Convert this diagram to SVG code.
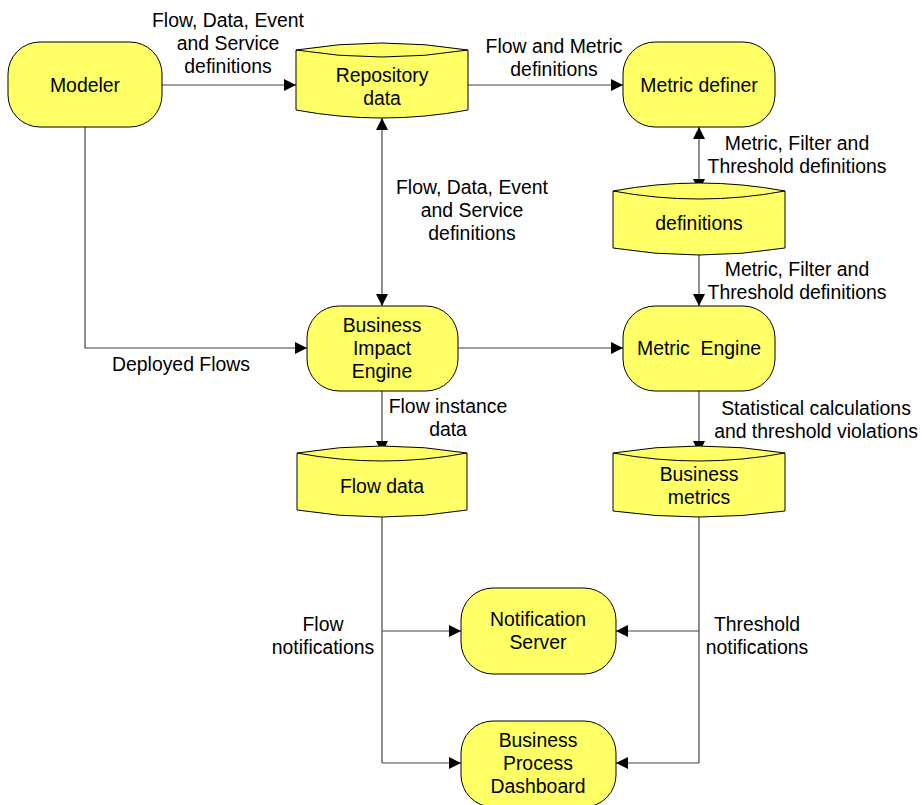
<svg xmlns="http://www.w3.org/2000/svg" width="922" height="805" viewBox="0 0 922 805">
  <defs>
    <style>
      .node { fill: #FFFF66; stroke: #000; stroke-width: 1; }
      .lens { fill: none; stroke: #000; stroke-width: 1; }
      .conn { fill: none; stroke: #444; stroke-width: 1.2; }
      text { font-family: "Liberation Sans", Arial, sans-serif; font-size: 19.4px; fill: #000; text-anchor: middle; }
    </style>
    <marker id="arrow" viewBox="0 0 12 12" refX="12" refY="6" markerWidth="12" markerHeight="12" markerUnits="userSpaceOnUse" orient="auto-start-reverse">
      <path d="M0,0 L12,6 L0,12 Z" fill="#000"/>
    </marker>
  </defs>
  <rect width="922" height="805" fill="#fff"/>

  <!-- connectors -->
  <g id="connectors">
    <line class="conn" x1="162" y1="85" x2="296" y2="85" marker-end="url(#arrow)"/>
    <line class="conn" x1="468" y1="85" x2="623" y2="85" marker-end="url(#arrow)"/>
    <line class="conn" x1="382" y1="118" x2="382" y2="306" marker-start="url(#arrow)" marker-end="url(#arrow)"/>
    <line class="conn" x1="699" y1="127" x2="699" y2="191" marker-start="url(#arrow)" marker-end="url(#arrow)"/>
    <line class="conn" x1="699" y1="255" x2="699" y2="306" marker-end="url(#arrow)"/>
    <polyline class="conn" points="85,127 85,348 307,348" marker-end="url(#arrow)"/>
    <line class="conn" x1="458" y1="348" x2="623" y2="348" marker-end="url(#arrow)"/>
    <line class="conn" x1="382" y1="391" x2="382" y2="453" marker-end="url(#arrow)"/>
    <line class="conn" x1="699" y1="391" x2="699" y2="453" marker-end="url(#arrow)"/>
    <line class="conn" x1="382" y1="517" x2="382" y2="763"/>
    <line class="conn" x1="382" y1="631" x2="461" y2="631" marker-end="url(#arrow)"/>
    <line class="conn" x1="382" y1="763" x2="461" y2="763" marker-end="url(#arrow)"/>
    <line class="conn" x1="699" y1="517" x2="699" y2="763"/>
    <line class="conn" x1="699" y1="631" x2="616" y2="631" marker-end="url(#arrow)"/>
    <line class="conn" x1="699" y1="763" x2="616" y2="763" marker-end="url(#arrow)"/>
  </g>

  <!-- connector labels -->
  <g id="labels">
    <text x="228" y="27">Flow, Data, Event</text>
    <text x="228" y="50">and Service</text>
    <text x="228" y="73">definitions</text>
    <text x="554" y="53">Flow and Metric</text>
    <text x="554" y="76">definitions</text>
    <text x="797" y="150">Metric, Filter and</text>
    <text x="797" y="173">Threshold definitions</text>
    <text x="472" y="194">Flow, Data, Event</text>
    <text x="472" y="217">and Service</text>
    <text x="472" y="240">definitions</text>
    <text x="797" y="276">Metric, Filter and</text>
    <text x="797" y="299">Threshold definitions</text>
    <text x="181" y="371">Deployed Flows</text>
    <text x="448" y="413">Flow instance</text>
    <text x="448" y="436">data</text>
    <text x="816" y="415">Statistical calculations</text>
    <text x="816" y="438">and threshold violations</text>
    <text x="323" y="631">Flow</text>
    <text x="323" y="654">notifications</text>
    <text x="757" y="631">Threshold</text>
    <text x="757" y="654">notifications</text>
  </g>

  <!-- process nodes -->
  <g id="modeler">
    <rect class="node" x="8" y="42" width="154" height="85" rx="32" ry="32"/>
    <text x="85" y="92">Modeler</text>
  </g>
  <g id="metric-definer">
    <rect class="node" x="623" y="42" width="152" height="85" rx="32" ry="32"/>
    <text x="699" y="92">Metric definer</text>
  </g>
  <g id="business-impact-engine">
    <rect class="node" x="307" y="306" width="151" height="85" rx="32" ry="32"/>
    <text x="382" y="332">Business</text>
    <text x="382" y="355">Impact</text>
    <text x="382" y="378">Engine</text>
  </g>
  <g id="metric-engine">
    <rect class="node" x="623" y="306" width="152" height="85" rx="32" ry="32"/>
    <text x="699" y="355" xml:space="preserve">Metric  Engine</text>
  </g>
  <g id="notification-server">
    <rect class="node" x="461" y="588" width="155" height="86" rx="32" ry="32"/>
    <text x="538" y="626">Notification</text>
    <text x="538" y="649">Server</text>
  </g>
  <g id="dashboard">
    <rect class="node" x="461" y="721" width="155" height="86" rx="32" ry="32"/>
    <text x="538" y="747">Business</text>
    <text x="538" y="770">Process</text>
    <text x="538" y="793">Dashboard</text>
  </g>

  <!-- data stores -->
  <g id="repository-data">
    <path class="node" d="M296,50 Q382,36 468,50 L468,110 Q382,126 296,110 Z"/>
    <path class="lens" d="M296,50 Q382,64 468,50"/>
    <text x="382" y="82">Repository</text>
    <text x="382" y="105">data</text>
  </g>
  <g id="definitions">
    <path class="node" d="M613,191 Q699,175 785,191 L785,248 Q699,262 613,248 Z"/>
    <path class="lens" d="M613,191 Q699,207 785,191"/>
    <text x="699" y="230">definitions</text>
  </g>
  <g id="flow-data">
    <path class="node" d="M297,453 Q382,439 467,453 L467,510 Q382,524 297,510 Z"/>
    <path class="lens" d="M297,453 Q382,469 467,453"/>
    <text x="382" y="493">Flow data</text>
  </g>
  <g id="business-metrics">
    <path class="node" d="M613,453 Q699,439 785,453 L785,511 Q699,523 613,511 Z"/>
    <path class="lens" d="M613,453 Q699,469 785,453"/>
    <text x="699" y="481">Business</text>
    <text x="699" y="504">metrics</text>
  </g>
</svg>
